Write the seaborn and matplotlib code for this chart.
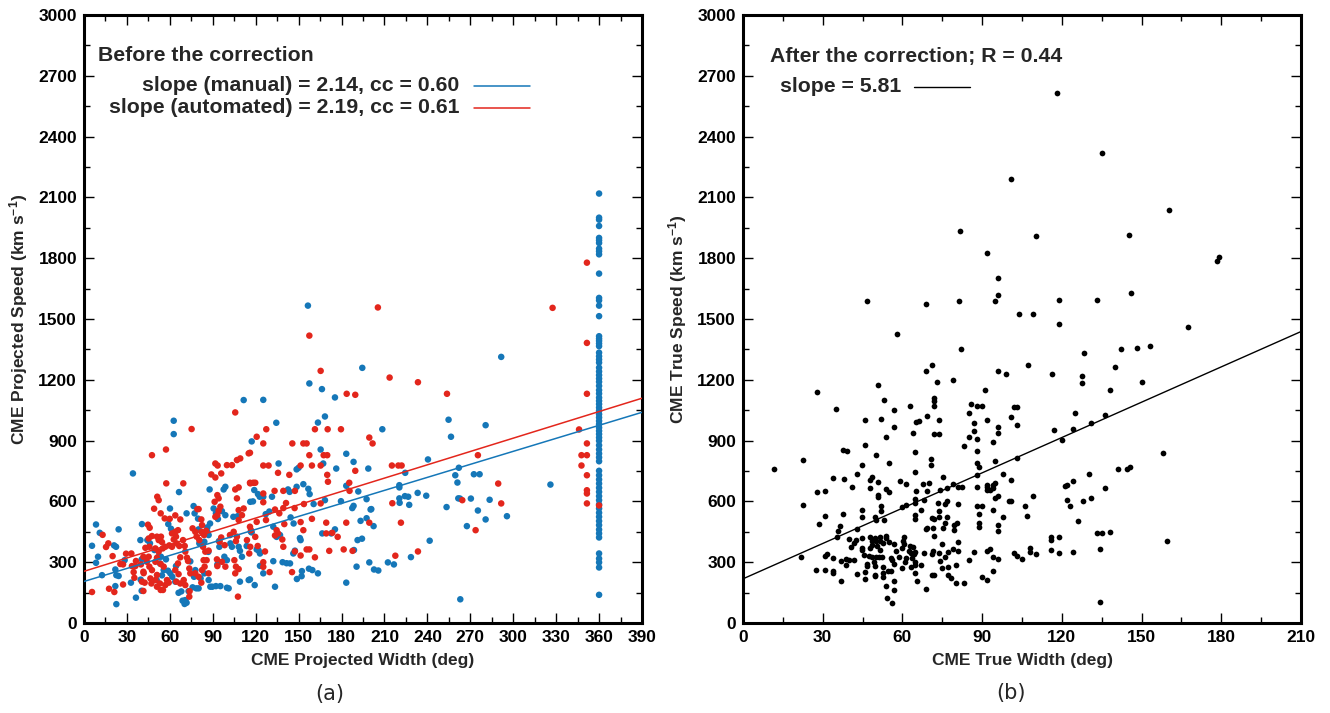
import numpy as np
import pandas as pd
import matplotlib
matplotlib.use("Agg")
import matplotlib.pyplot as plt
import seaborn as sns
from matplotlib.ticker import MultipleLocator

# ---------------- data ----------------
# Panel (a): projected width (deg) vs projected speed (km/s)
manual_pts = [
    (5.6,381),(8.4,486),(11.0,445),(9.8,327),(12.6,236),(8.4,297),(21.0,383),(22.4,376),(24.2,462),
    (21.9,264),(22.6,236),(21.9,182),(22.6,93),(24.2,232),(28.4,310),(34.2,738),(32.8,199),(36.3,125),
    (39.4,409),(40.5,488),(39.6,214),(40.3,159),(60.1,565),(62.7,932),(62.7,998),(66.4,646),(52.0,327),
    (53.8,327),(55.7,261),(54.5,235),(58.7,258),(60.3,245),(61.7,228),(63.8,204),(66.1,149),(68.0,156),
    (68.9,110),(70.8,113),(71.7,100),(70.3,94),(73.1,157),(75.9,176),(78.5,171),(80.1,171),(77.8,261),
    (76.9,228),(76.6,577),(77.3,541),(79.7,515),(80.1,462),(86.2,472),(86.2,450),(87.1,434),(84.1,245),
    (81.5,220),(87.1,212),(88.3,179),(89.7,179),(92.2,182),(95.3,182),(99.9,174),(101.1,171),(90.6,565),
    (92.2,541),(96.4,552),(98.8,532),(87.8,659),(97.6,659),(98.8,672),(98.1,327),(99.9,310),(102.3,393),
    (103.4,376),(107.4,527),(108.1,376),(110.4,327),(109.0,204),(111.6,1100),(116.2,598),(116.7,450),
    (115.1,212),(58.9,488),(60.8,465),(71.7,541),(44.3,409),(46.1,393),(40.3,314),(42.6,320),(49.2,360),
    (53.1,294),(57.3,314),(50.8,212),(64.3,281),(74.3,304),(80.6,393),(84.1,401),(86.9,351),(88.1,491),
    (93.6,513),(94.3,404),(94.6,376),(93.2,289),(104.4,524),(109.0,356),(113.7,380),
    (156.5,1566),(157.5,1182),(166.3,1154),(194.5,1259),(175.4,1113),(125.3,1101),(134.4,988),(254.8,1003),
    (256.5,919),(208.5,956),(168.4,1019),(163.5,989),(117.2,896),(165.4,856),(183.3,835),(188.4,795),
    (136.0,787),(148.6,758),(150.0,766),(167.2,787),(198.7,762),(176.3,762),(224.5,741),(240.4,807),
    (153.3,685),(183.3,677),(156.8,662),(157.7,636),(220.4,680),(220.4,669),(119.0,656),(121.6,636),
    (122.8,623),(131.4,623),(142.6,659),(143.7,647),(148.6,672),(191.7,649),(220.4,615),(226.6,623),
    (233.2,642),(239.2,628),(118.1,600),(125.3,623),(160.5,587),(168.4,606),(179.6,601),(187.5,567),
    (188.4,578),(220.6,593),(197.5,611),(224.3,626),(227.3,583),(253.4,572),(261.6,615),(200.8,562),
    (127.0,537),(129.5,550),(144.4,521),(146.5,491),(193.3,504),(197.5,517),(200.3,560),(202.4,478),
    (137.0,434),(120.7,363),(122.1,357),(123.0,343),(117.2,447),(132.3,475),(134.6,425),(150.9,419),
    (151.4,409),(146.3,343),(147.4,357),(175.4,462),(172.8,442),(166.5,442),(188.7,360),(191.2,409),
    (194.3,416),(190.5,278),(199.4,299),(202.7,264),(205.7,259),(212.4,299),(216.6,289),(228.5,325),
    (241.6,406),(132.3,305),(138.8,300),(141.6,295),(144.0,294),(148.8,217),(152.1,231),(152.3,256),
    (157.2,268),(159.6,261),(163.5,245),(183.3,199),(133.5,179),(125.3,245),(123.0,282),(116.0,215),
    (119.3,187),(263.0,117),(326.0,683),(291.6,1313),(280.7,976),(259.5,729),(261.0,693),(262.0,766),
    (272.5,734),(276.5,734),(262.8,614),(270.4,614),(283.5,608),(295.6,527),(275.3,555),(280.7,511),
    (267.6,478),
]
halo_speeds = [  # manual halo CMEs, width = 360 deg
    2119,2000,1990,1959,1900,1888,1875,1847,1834,1819,1724,1604,1592,1566,1514,1415,1403,1392,1379,1366,
    1334,1316,1300,1285,1260,1241,1223,1206,1190,1170,1149,1132,1112,1096,1080,1063,1047,1030,1014,997,
    981,964,948,932,915,899,877,856,836,817,798,751,729,708,688,667,647,626,606,585,565,544,524,503,483,
    461,442,422,343,318,299,274,139,
]
auto_pts = [
    (13.0,435),(15.4,375),(17.0,393),(20.0,330),(17.5,169),(21.2,153),(5.6,153),(25.4,291),(27.3,289),
    (29.4,342),(27.3,190),(33.1,343),(33.5,281),(34.7,251),(35.2,223),(36.3,306),(35.9,281),(42.9,371),
    (41.5,327),(39.8,289),(41.7,246),(40.5,204),(41.5,158),(44.7,485),(45.9,470),(45.2,417),(47.5,429),
    (45.7,376),(45.2,327),(44.0,302),(45.7,278),(47.5,261),(41.5,253),(46.4,220),(47.1,195),(42.4,199),
    (47.5,828),(57.3,856),(51.2,623),(52.2,606),(49.0,564),(53.6,541),(56.4,516),(75.2,957),(57.5,689),
    (69.4,689),(59.9,514),(63.8,531),(67.3,511),(51.0,426),(53.8,426),(52.2,409),(54.5,399),(49.9,368),
    (52.2,352),(55.0,368),(56.8,376),(51.0,322),(49.9,302),(53.6,291),(55.7,278),(51.0,237),(49.9,212),
    (53.1,195),(56.8,187),(55.2,163),(53.6,163),(51.0,179),(58.0,212),(59.2,199),(59.6,383),(61.5,376),
    (62.7,412),(64.3,426),(65.7,458),(61.5,442),(63.8,450),(64.7,393),(66.6,380),(69.2,409),(70.4,380),
    (70.8,352),(72.0,322),(72.7,306),(67.3,324),(65.7,294),(63.8,261),(66.1,241),(64.5,204),(67.3,195),
    (69.7,212),(70.8,187),(73.6,269),(74.3,245),(73.8,157),(73.6,130),(77.8,245),(80.1,228),(79.2,562),
    (80.1,562),(82.0,511),(82.5,483),(75.9,467),(77.8,450),(78.7,426),(80.6,409),(82.0,450),(83.9,434),
    (85.3,455),(83.2,376),(84.8,352),(87.1,357),(83.6,310),(85.7,310),(84.3,278),(82.5,261),(82.0,199),
    (87.1,245),(92.9,314),(96.4,302),(93.2,281),(98.8,278),(94.8,401),(95.9,422),(98.3,384),(91.8,524),
    (93.2,532),(94.1,554),(95.3,574),(91.3,598),(94.1,615),(93.2,631),(89.0,733),(91.8,718),(95.9,738),
    (93.4,777),(91.8,787),(99.9,779),(103.4,779),(105.1,310),(106.2,278),(108.1,266),(105.7,245),
    (102.0,434),(104.6,450),(106.9,426),(106.2,404),(108.1,508),(110.4,532),(108.1,557),(111.6,565),
    (105.7,659),(108.1,669),(106.9,615),(106.9,804),(109.2,812),(105.7,1039),(107.6,130),(115.1,837),
    (116.2,689),(113.9,409),(116.2,376),(115.5,343),
    (205.4,1557),(157.5,1418),(165.4,1244),(213.6,1211),(233.4,1188),(253.7,1131),(183.6,1131),(189.6,1126),
    (161.4,956),(170.3,956),(179.6,956),(127.4,956),(120.7,919),(145.6,886),(153.3,886),(155.6,886),
    (125.3,886),(199.4,915),(201.7,886),(157.5,828),(167.5,828),(170.0,828),(116.0,840),(215.2,777),
    (219.7,777),(222.0,777),(125.3,777),(129.0,777),(151.4,777),(159.3,777),(165.4,777),(189.6,751),
    (135.6,741),(143.5,731),(170.0,731),(170.5,697),(116.0,692),(118.3,692),(119.7,692),(185.4,692),
    (133.2,652),(139.3,652),(147.4,652),(125.3,639),(185.6,652),(125.3,596),(141.2,592),(139.3,567),
    (133.5,560),(147.2,567),(153.7,587),(165.4,590),(215.5,591),(136.5,541),(140.0,488),(127.2,508),
    (120.7,499),(151.4,498),(153.3,458),(159.3,514),(169.3,495),(183.3,495),(199.4,495),(221.5,495),
    (134.6,458),(133.5,432),(135.6,442),(139.3,376),(138.6,412),(116.0,475),(116.7,458),(119.7,425),
    (121.4,380),(126.5,353),(155.6,363),(151.4,333),(147.4,353),(173.5,445),(177.3,425),(169.3,442),
    (171.4,356),(181.5,363),(187.7,356),(161.4,324),(157.5,363),(217.6,332),(233.4,353),(145.4,251),
    (129.7,251),(125.3,277),(125.3,300),
    (351.5,1778),(351.5,1382),(351.5,1131),(351.5,886),(351.5,828),(347.7,828),(347.7,777),(351.5,729),
    (351.5,655),(351.5,639),(351.5,590),(346.0,955),(360.0,580),(327.5,1555),(264.4,606),(275.3,828),
    (289.5,688),(291.6,590),(273.7,458),
]

# Panel (b): true width (deg) vs true speed (km/s)
true_pts = [
    (11.8,762),(22.7,803),(22.7,581),(21.8,328),(28.0,644),(31.0,652),(30.9,529),(33.9,716),(37.8,852),
    (39.0,851),(38.0,711),(40.9,672),(42.9,737),(44.9,778),(46.0,877),(49.9,829),(47.9,704),(48.7,718),
    (47.8,665),(50.9,696),(50.9,631),(50.9,622),(53.7,920),(54.8,788),(53.8,663),(54.9,647),(59.0,701),
    (56.8,966),(64.9,842),(64.9,745),(65.1,650),(67.8,688),(69.9,693),(70.9,808),(70.8,778),(63.9,938),
    (65.1,992),(71.9,931),(59.8,570),(61.5,581),(64.9,612),(64.9,593),(66.9,560),(64.8,532),(64.9,514),
    (69.0,465),(69.1,471),(71.0,519),(71.9,512),(71.4,471),(72.0,429),(37.6,537),(44.9,558),(44.9,525),
    (51.9,578),(51.9,555),(49.7,522),(49.9,506),(53.0,507),(43.0,466),(35.9,452),(28.7,489),(35.4,425),
    (36.4,479),(40.0,415),(41.8,396),(42.7,409),(40.7,374),(44.9,417),(44.9,368),(44.9,358),(47.7,425),
    (48.7,406),(47.7,369),(48.7,384),(49.7,419),(50.1,404),(50.6,381),(51.6,422),(51.6,406),(53.8,429),
    (53.7,417),(52.8,397),(54.8,401),(57.0,392),(60.1,406),(60.5,424),(59.7,371),(60.7,391),(63.0,381),
    (63.9,373),(62.4,356),(64.4,342),(64.9,348),(57.7,356),(51.6,360),(48.4,325),(50.1,325),(51.1,325),
    (52.2,325),(47.6,333),(49.3,299),(49.6,282),(45.7,337),(41.8,310),(38.9,317),(40.0,310),(37.0,305),
    (34.0,322),(31.6,338),(31.0,330),(27.4,263),(30.9,263),(33.7,258),(33.7,246),(36.9,207),(38.8,286),
    (42.8,243),(46.0,218),(46.0,253),(46.6,282),(46.6,292),(49.8,238),(49.8,233),(52.8,278),(52.8,248),
    (52.8,228),(54.7,258),(55.6,258),(53.8,182),(54.1,125),(56.0,97),(56.8,161),(56.8,207),(56.8,289),
    (55.7,319),(56.1,310),(58.6,327),(59.8,273),(60.9,302),(61.2,319),(63.1,278),(63.7,323),(63.1,343),
    (64.6,302),(64.6,284),(64.6,245),(65.4,209),(66.9,286),(69.0,169),(68.1,343),(71.0,340),(71.6,356),
    (71.0,235),(71.8,235),(74.0,307),(61.2,688),(69.1,652),(68.1,606),(73.4,590),(73.8,553),
    (73.6,1003),(73.6,934),(75.4,721),(74.2,655),(76.7,668),(79.2,688),(81.1,672),(82.6,672),(76.1,589),
    (76.9,603),(81.1,589),(73.6,524),(76.9,524),(76.1,491),(79.5,486),(79.5,458),(80.6,491),(75.1,468),
    (74.8,392),(77.3,351),(73.6,343),(76.1,327),(77.3,277),(74.8,269),(77.3,237),(78.3,220),
    (91.0,1148),(85.9,1080),(88.1,1072),(90.0,1072),(85.0,1034),(87.0,987),(87.0,947),(88.0,908),
    (85.0,918),(83.1,875),(88.0,847),(88.0,790),(89.0,770),(88.0,731),(88.0,672),(88.0,578),(90.0,578),
    (89.0,537),(89.0,491),(89.0,474),(92.0,1000),(94.0,895),(96.0,967),(96.0,938),(95.0,801),(92.0,683),
    (92.0,672),(92.0,658),(94.0,683),(94.0,668),(95.0,693),(93.0,655),(95.0,619),(96.0,626),(94.0,557),
    (96.0,486),(96.0,456),(98.0,524),(98.0,734),(101.0,1015),(102.0,1067),(103.0,1067),(103.0,979),
    (103.0,816),(101.0,704),(100.0,604),(101.0,601),(106.0,576),(107.0,527),(109.1,627),(92.0,356),
    (93.0,363),(94.0,327),(87.0,351),(85.0,310),(81.0,402),(81.0,356),(79.0,366),(80.0,286),(83.0,195),
    (80.0,197),(90.0,225),(92.0,210),(94.0,255),(96.0,314),(102.0,343),(103.0,333),(105.0,317),
    (108.1,371),(108.1,348),(110.1,340),(116.1,360),(116.1,412),(116.1,425),(119.1,424),(119.1,343),
    (124.1,350),(117.1,954),(120.1,901),(124.1,959),(125.1,1038),(131.1,985),(136.2,1026),(138.2,1151),
    (121.1,678),(122.1,683),(124.1,699),(122.1,609),(123.1,576),(128.1,604),(131.1,616),(126.1,504),
    (130.1,734),(136.2,668),(141.1,759),(144.7,760),(145.7,770),(133.2,442),(135.2,445),(138.2,448),
    (134.2,365),(134.2,102),
    (118.2,2617),(135.1,2321),(101.0,2190),(160.2,2040),(81.8,1932),(110.1,1911),(145.1,1916),
    (178.4,1786),(179.2,1808),(91.8,1824),(96.1,1700),(96.1,1619),(95.0,1588),(46.8,1588),(68.8,1574),
    (81.2,1588),(119.1,1592),(133.1,1594),(146.1,1630),(104.0,1527),(109.1,1527),(119.1,1477),
    (167.3,1459),(58.0,1426),(142.3,1351),(148.1,1358),(153.2,1367),(82.0,1354),(128.2,1333),
    (140.0,1261),(71.1,1273),(107.1,1273),(69.0,1244),(96.1,1241),(99.0,1230),(116.3,1230),
    (127.4,1217),(127.4,1185),(150.2,1190),(79.1,1199),(73.1,1190),(27.9,1140),(50.9,1176),
    (72.0,1111),(72.0,1095),(72.0,1073),(53.0,1100),(35.0,1055),(56.9,1050),(63.0,1070),(52.0,1005),
    (46.0,1001),(66.3,996),(69.2,1019),(158.1,841),(159.4,405),
]

# fitted lines shown in the figure
fit_manual = (2.14, 205.0)     # slope, intercept
fit_auto = (2.19, 255.0)
fit_true = (5.81, 218.0)

labels_a = ["slope (manual) = 2.14, cc = 0.60", "slope (automated) = 2.19, cc = 0.61"]
label_b = "slope = 5.81"

BLUE = "#1577b8"
RED = "#e3261c"

# ---------------- dataframes ----------------
man_w = [p[0] for p in manual_pts] + [360.0] * len(halo_speeds)
man_v = [p[1] for p in manual_pts] + list(halo_speeds)
df_a = pd.concat([
    pd.DataFrame({"width": man_w, "speed": man_v, "method": "manual"}),
    pd.DataFrame({"width": [p[0] for p in auto_pts], "speed": [p[1] for p in auto_pts], "method": "automated"}),
], ignore_index=True)
df_b = pd.DataFrame({"width": [p[0] for p in true_pts], "speed": [p[1] for p in true_pts]})

# ---------------- style ----------------
sns.set_theme(style="ticks")
plt.rcParams["font.family"] = ["Liberation Sans", "DejaVu Sans"]
plt.rcParams["font.weight"] = "bold"
plt.rcParams["axes.labelweight"] = "bold"
plt.rcParams["mathtext.fontset"] = "custom"
plt.rcParams["mathtext.rm"] = "Liberation Sans:bold"
plt.rcParams["mathtext.bf"] = "Liberation Sans:bold"
plt.rcParams["mathtext.default"] = "bf"

FS = 12.5      # tick and axis labels
FL = 15.3      # in-panel annotation text
fig = plt.figure(figsize=(13.3, 7.13), dpi=100)
fig.patch.set_facecolor("white")
ax1 = fig.add_axes([84 / 1330, 90 / 713, 558 / 1330, 608 / 713])
ax2 = fig.add_axes([743 / 1330, 90 / 713, 558 / 1330, 608 / 713])

def style_axes(ax, xmax, xmaj):
    ax.set_xlim(0, xmax)
    ax.set_ylim(0, 3000)
    ax.xaxis.set_major_locator(MultipleLocator(xmaj))
    ax.xaxis.set_minor_locator(MultipleLocator(xmaj / 2))
    ax.yaxis.set_major_locator(MultipleLocator(300))
    ax.yaxis.set_minor_locator(MultipleLocator(150))
    ax.tick_params(which="both", direction="in", top=True, right=True, colors="black",
                   labelsize=FS, width=1.0)
    ax.tick_params(which="major", length=7, pad=5)
    ax.tick_params(which="minor", length=4)
    for lab in ax.get_xticklabels() + ax.get_yticklabels():
        lab.set_fontweight("bold")
    for s in ax.spines.values():
        s.set_linewidth(2.2)
        s.set_color("black")
    ax.set_facecolor("white")
    ax.grid(False)

# ---- panel (a)
sns.scatterplot(data=df_a, x="width", y="speed", hue="method",
                palette={"manual": BLUE, "automated": RED},
                hue_order=["manual", "automated"], s=22, linewidth=0,
                legend=False, ax=ax1, zorder=3)
xs = np.array([0, 390])
ax1.plot(xs, fit_manual[1] + fit_manual[0] * xs, color=BLUE, lw=1.1, zorder=4)
ax1.plot(xs, fit_auto[1] + fit_auto[0] * xs, color=RED, lw=1.1, zorder=4)
style_axes(ax1, 390, 30)
ax1.set_xlabel("CME Projected Width (deg)", fontsize=FS, fontweight="bold", labelpad=6)
ax1.set_ylabel("CME Projected Speed (km s$^{-1}$)", fontsize=FS, fontweight="bold", labelpad=6)
ax1.text(9.6, 2800, "Before the correction", fontsize=FL, fontweight="bold", ha="left", va="center")
ax1.text(262.5, 2651, labels_a[0], fontsize=FL, fontweight="bold", ha="right", va="center")
ax1.text(262.5, 2543, labels_a[1], fontsize=FL, fontweight="bold", ha="right", va="center")
ax1.plot([272.5, 311.5], [2651, 2651], color=BLUE, lw=1.1)
ax1.plot([272.5, 311.5], [2543, 2543], color=RED, lw=1.1)

# ---- panel (b)
sns.scatterplot(data=df_b, x="width", y="speed", color="black", s=17, linewidth=0,
                legend=False, ax=ax2, zorder=3)
xb = np.array([0, 210])
ax2.plot(xb, fit_true[1] + fit_true[0] * xb, color="black", lw=1.0, zorder=4)
style_axes(ax2, 210, 30)
ax2.set_xlabel("CME True Width (deg)", fontsize=FS, fontweight="bold", labelpad=6)
ax2.set_ylabel("CME True Speed (km s$^{-1}$)", fontsize=FS, fontweight="bold", labelpad=6)
ax2.text(10.3, 2793, "After the correction; R = 0.44", fontsize=FL, fontweight="bold", ha="left", va="center")
ax2.text(13.8, 2647, label_b, fontsize=FL, fontweight="bold", ha="left", va="center")
ax2.plot([64.2, 85.5], [2647, 2647], color="black", lw=1.0)

# panel letters
fig.text(330 / 1330, 1 - 694 / 713, "(a)", fontsize=15, fontweight="normal",
         family="DejaVu Sans", ha="center", va="center")
fig.text(1011 / 1330, 1 - 693 / 713, "(b)", fontsize=15, fontweight="normal",
         family="DejaVu Sans", ha="center", va="center")

fig.savefig("out.png", dpi=100, facecolor="white")
